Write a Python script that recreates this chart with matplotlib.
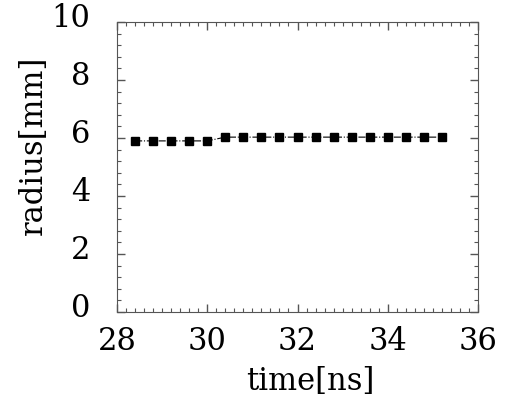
import matplotlib.pyplot as plt
import matplotlib.transforms as mtransforms
from matplotlib.ticker import MultipleLocator

time = [28.4, 28.8, 29.2, 29.6, 30.0, 30.4, 30.8, 31.2, 31.6, 32.0,
        32.4, 32.8, 33.2, 33.6, 34.0, 34.4, 34.8, 35.2]
radius = [5.9, 5.9, 5.9, 5.9, 5.9, 6.03, 6.03, 6.03, 6.03, 6.03,
          6.03, 6.03, 6.03, 6.03, 6.03, 6.03, 6.03, 6.03]

plt.rcParams["font.family"] = ["DejaVu Serif"]
fig = plt.figure(figsize=(5.08, 4.03), dpi=100)
ax = fig.add_axes([117/508, 1-312/403, (478-117)/508, (312-22)/403])

ax.plot(time, radius, color='black', linestyle='-.', linewidth=0.8,
        marker='s', markersize=6)

ax.set_xlim(28, 36)
ax.set_ylim(0, 10)
ax.xaxis.set_major_locator(MultipleLocator(2))
ax.xaxis.set_minor_locator(MultipleLocator(0.2))
ax.yaxis.set_major_locator(MultipleLocator(2))
ax.yaxis.set_minor_locator(MultipleLocator(0.4))
ax.tick_params(which='both', direction='in', top=True, right=True,
               colors='#555555', labelcolor='black')
ax.tick_params(which='major', length=6, width=1, labelsize=22)
ax.tick_params(which='minor', length=3, width=0.8)
ax.tick_params(axis='y', which='major', pad=19)
ax.tick_params(axis='x', which='major', pad=10)
for s in ax.spines.values():
    s.set_color('#555555')

# y tick labels sit a little above their ticks in the original
shift = mtransforms.ScaledTranslation(0, 7/100, fig.dpi_scale_trans)
for lab in ax.get_yticklabels():
    lab.set_transform(lab.get_transform() + shift)

ax.set_xlabel('time[ns]', fontsize=22)
ax.set_ylabel('radius[mm]', fontsize=22)
ax.xaxis.set_label_coords((310-117)/361, -(382-312)/290)
ax.yaxis.set_label_coords(-(117-33)/361, (312-145)/290)
ax.xaxis.label.set_va('center')
ax.yaxis.label.set_va('center')

fig.savefig('out.png', dpi=100)
